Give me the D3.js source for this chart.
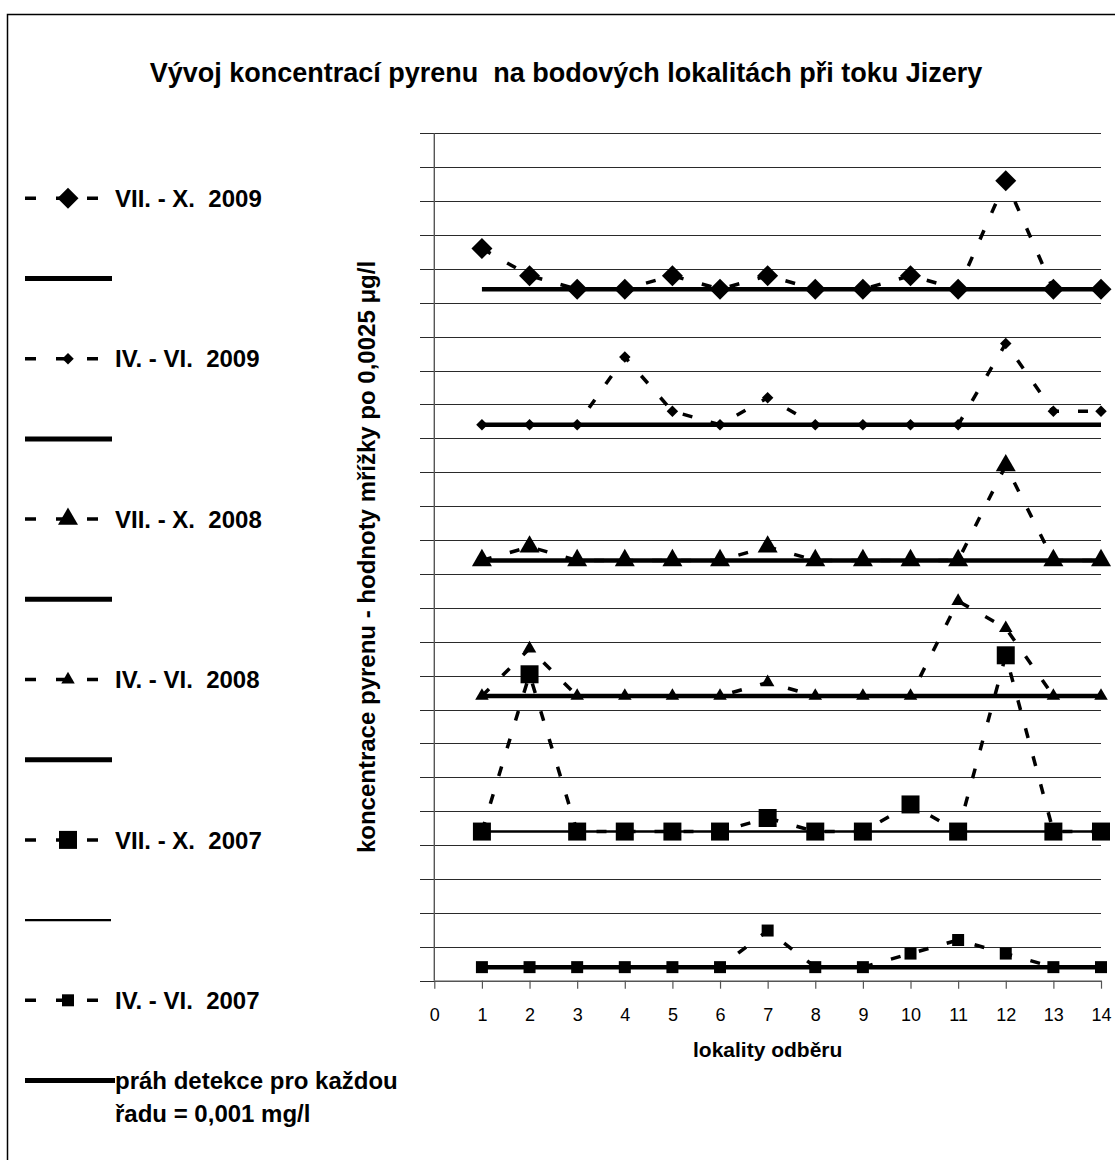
<!DOCTYPE html>
<html>
<head>
<meta charset="utf-8">
<script src="https://cdn.jsdelivr.net/npm/d3@7"></script>
<style>
  html, body { margin: 0; padding: 0; background: #fff; }
  text { font-family: "Liberation Sans", Arial, sans-serif; white-space: pre; }
</style>
</head>
<body>
<svg id="chart" width="1115" height="1160"></svg>
<script>
// ---------------- data ----------------
const locations = [1, 2, 3, 4, 5, 6, 7, 8, 9, 10, 11, 12, 13, 14];
const xTickLabels = [0, 1, 2, 3, 4, 5, 6, 7, 8, 9, 10, 11, 12, 13, 14];

// plotted values (each series shifted up by its own band, grid step 0,0025)
const valsVIIX2009 = [0.054, 0.052, 0.051, 0.051, 0.052, 0.051, 0.052, 0.051, 0.051, 0.052, 0.051, 0.059, 0.051, 0.051];
const valsIVVI2009 = [0.041, 0.041, 0.041, 0.046, 0.042, 0.041, 0.043, 0.041, 0.041, 0.041, 0.041, 0.047, 0.042, 0.042];
const valsVIIX2008 = [0.031, 0.032, 0.031, 0.031, 0.031, 0.031, 0.032, 0.031, 0.031, 0.031, 0.031, 0.038, 0.031, 0.031];
const valsIVVI2008 = [0.021, 0.0245, 0.021, 0.021, 0.021, 0.021, 0.022, 0.021, 0.021, 0.021, 0.028, 0.026, 0.021, 0.021];
const valsVIIX2007 = [0.011, 0.0226, 0.011, 0.011, 0.011, 0.011, 0.012, 0.011, 0.011, 0.013, 0.011, 0.024, 0.011, 0.011];
const valsIVVI2007 = [0.001, 0.001, 0.001, 0.001, 0.001, 0.001, 0.0037, 0.001, 0.001, 0.002, 0.003, 0.002, 0.001, 0.001];

// detection threshold line for each series
const thresholds = [0.051, 0.041, 0.031, 0.021, 0.011, 0.001];

const seriesNames = ["VII. - X.  2009", "IV. - VI.  2009", "VII. - X.  2008",
                     "IV. - VI.  2008", "VII. - X.  2007", "IV. - VI.  2007"];
const seriesValues = [valsVIIX2009, valsIVVI2009, valsVIIX2008, valsIVVI2008, valsVIIX2007, valsIVVI2007];
const markerKinds = ["diamond", "diamond", "triangle", "triangle", "square", "square"];
const markerBig = [true, false, true, false, true, false];
const thresholdThin = [false, false, false, false, true, false];
const thresholdLabel = ["práh detekce pro každou", "řadu = 0,001 mg/l"];

const titleText = "Vývoj koncentrací pyrenu  na bodových lokalitách při toku Jizery";
const yTitleText = "koncentrace pyrenu - hodnoty mřížky po 0,0025 μg/l";
const xTitleText = "lokality odběru";

const yMax = 0.0625, gridStep = 0.0025;

// ---------------- layout ----------------
const svg = d3.select("#chart");
const L = 434.3, R = 1101, T = 133.3, B = 980.7;
const x = d3.scaleLinear().domain([0, 14]).range([L, R]);
const y = d3.scaleLinear().domain([0, yMax]).range([B, T]);

// outer border
svg.append("rect").attr("x", 7.5).attr("y", 14.5).attr("width", 1120).attr("height", 1160)
  .attr("fill", "none").attr("stroke", "#000").attr("stroke-width", 1.5);

// title
svg.append("text").attr("x", 566).attr("y", 82).attr("text-anchor", "middle")
  .attr("font-size", 27).attr("font-weight", "bold").text(titleText);

// gridlines + left ticks
const gridVals = d3.range(0, Math.round(yMax / gridStep) + 1).map(i => i * gridStep);
const gGrid = svg.append("g").attr("transform", `translate(420,0)`)
  .call(d3.axisLeft(y).tickValues(gridVals).tickSize(-(R - 420)).tickFormat(""));
gGrid.select(".domain").remove();
gGrid.selectAll(".tick line").attr("stroke", "#2a2a2a").attr("stroke-width", 1)
  .attr("shape-rendering", "crispEdges");

// y axis line
svg.append("line").attr("x1", L).attr("x2", L).attr("y1", T).attr("y2", B)
  .attr("stroke", "#555").attr("stroke-width", 1.4);

// x axis
const gX = svg.append("g").attr("transform", `translate(0,${B})`)
  .call(d3.axisBottom(x).tickValues(xTickLabels).tickSize(8).tickPadding(19.5).tickSizeOuter(0));
gX.select(".domain").attr("stroke", "#555").attr("stroke-width", 1.4);
gX.selectAll(".tick line").attr("stroke", "#555").attr("stroke-width", 1.2);
gX.selectAll(".tick text").attr("font-size", 18).attr("fill", "#000")
  .attr("font-family", "'Liberation Sans', Arial, sans-serif");

// axis titles
svg.append("text").attr("transform", `translate(375,${(T + B) / 2}) rotate(-90)`)
  .attr("text-anchor", "middle").attr("font-size", 24).attr("font-weight", "bold").text(yTitleText);
svg.append("text").attr("x", (L + R) / 2).attr("y", 1057).attr("text-anchor", "middle")
  .attr("font-size", 21).attr("font-weight", "bold").text(xTitleText);

// marker generator
function markerPath(kind, big) {
  if (kind === "diamond") {
    const w = big ? 21 : 11.5;
    return d3.symbol().type(d3.symbolSquare).size((w / Math.SQRT2) ** 2)();
  }
  if (kind === "triangle") {
    const w = big ? 20 : 13.5;
    return d3.symbol().type(d3.symbolTriangle).size(Math.sqrt(3) / 4 * w * w)();
  }
  const s = big ? 18 : 12;
  return d3.symbol().type(d3.symbolSquare).size(s * s)();
}
function markerTransform(kind, px, py) {
  return kind === "diamond" ? `translate(${px},${py}) rotate(45)` : `translate(${px},${py})`;
}

const line = d3.line().x((d, i) => x(locations[i])).y(d => y(d));
const DASH = "10,19";

// dashed series lines
seriesValues.forEach((vals, s) => {
  svg.append("path").datum(vals).attr("d", line)
    .attr("fill", "none").attr("stroke", "#000").attr("stroke-width", 3.5)
    .attr("stroke-dasharray", DASH);
});

// threshold lines
thresholds.forEach((t, s) => {
  svg.append("path").datum(locations.map(() => t)).attr("d", line)
    .attr("fill", "none").attr("stroke", "#000")
    .attr("stroke-width", thresholdThin[s] ? 2.6 : 4.5);
});

// markers
seriesValues.forEach((vals, s) => {
  svg.append("g").selectAll("path").data(vals).join("path")
    .attr("d", markerPath(markerKinds[s], markerBig[s]))
    .attr("transform", (d, i) => markerTransform(markerKinds[s], x(locations[i]), y(d)))
    .attr("fill", "#000");
});

// ---------------- legend ----------------
const legY0 = 198.3, legStep = 80.2, lx0 = 25, lx1 = 112, lmx = 68, ltx = 115;
const legend = svg.append("g");
seriesNames.forEach((name, s) => {
  const yy = legY0 + legStep * (2 * s);
  legend.append("line").attr("x1", lx0).attr("x2", lx1).attr("y1", yy).attr("y2", yy)
    .attr("stroke", "#000").attr("stroke-width", 3.5).attr("stroke-dasharray", "11,20");
  legend.append("path").attr("d", markerPath(markerKinds[s], markerBig[s]))
    .attr("transform", markerTransform(markerKinds[s], lmx, yy)).attr("fill", "#000");
  legend.append("text").attr("x", ltx).attr("y", yy + 8.6).attr("font-size", 24)
    .attr("font-weight", "bold").text(name);
  // threshold entry below
  const yy2 = legY0 + legStep * (2 * s + 1);
  legend.append("line").attr("x1", lx0).attr("x2", thresholdThin[s] ? lx1 - 1 : (s === 5 ? ltx : lx1))
    .attr("y1", yy2).attr("y2", yy2)
    .attr("stroke", "#000").attr("stroke-width", thresholdThin[s] ? 2.4 : 5);
});
legend.append("text").attr("x", ltx).attr("y", legY0 + legStep * 11 + 8.6)
  .attr("font-size", 24).attr("font-weight", "bold").text(thresholdLabel[0]);
legend.append("text").attr("x", ltx).attr("y", legY0 + legStep * 11 + 41.6)
  .attr("font-size", 24).attr("font-weight", "bold").text(thresholdLabel[1]);
</script>
</body>
</html>
